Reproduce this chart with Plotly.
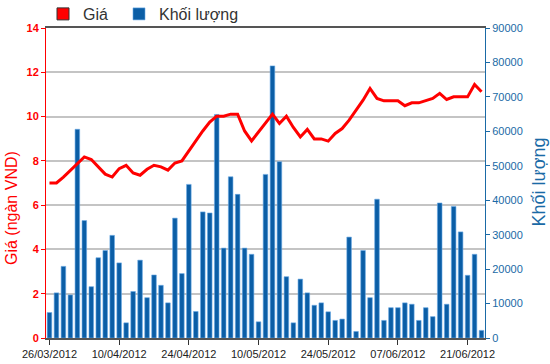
import plotly.graph_objects as go

dates = [
    "26/03/2012", "27/03/2012", "28/03/2012", "29/03/2012", "30/03/2012",
    "03/04/2012", "04/04/2012", "05/04/2012", "06/04/2012", "09/04/2012",
    "10/04/2012", "11/04/2012", "12/04/2012", "13/04/2012", "16/04/2012",
    "17/04/2012", "18/04/2012", "19/04/2012", "20/04/2012", "23/04/2012",
    "24/04/2012", "25/04/2012", "26/04/2012", "27/04/2012",
    "02/05/2012", "03/05/2012", "04/05/2012", "07/05/2012", "08/05/2012",
    "09/05/2012", "10/05/2012", "11/05/2012", "14/05/2012", "15/05/2012",
    "16/05/2012", "17/05/2012", "18/05/2012", "21/05/2012", "22/05/2012",
    "23/05/2012", "24/05/2012", "25/05/2012", "28/05/2012", "29/05/2012",
    "30/05/2012", "31/05/2012",
    "01/06/2012", "04/06/2012", "05/06/2012", "06/06/2012", "07/06/2012",
    "08/06/2012", "11/06/2012", "12/06/2012", "13/06/2012", "14/06/2012",
    "15/06/2012", "18/06/2012", "19/06/2012", "20/06/2012", "21/06/2012",
    "22/06/2012", "25/06/2012",
]

price = [
    7.0, 7.0, 7.27, 7.58, 7.88, 8.18, 8.06, 7.73, 7.4, 7.27,
    7.65, 7.8, 7.45, 7.35, 7.62, 7.8, 7.73, 7.58, 7.9, 8.0,
    8.45, 8.95, 9.35, 9.75, 10.02, 10.02, 10.11, 10.11, 9.35, 8.9,
    9.3, 9.69, 10.11, 9.69, 10.02, 9.51, 9.08, 9.42, 8.99, 8.99,
    8.89, 9.24, 9.46, 9.84, 10.29, 10.74, 11.27, 10.82, 10.71, 10.71,
    10.71, 10.49, 10.62, 10.62, 10.71, 10.82, 11.05, 10.77, 10.89, 10.89,
    10.89, 11.45, 11.12,
]

volume = [
    7400, 13100, 20800, 12500, 60600, 34100, 14900, 23300, 25400, 29800,
    21800, 4400, 13500, 22600, 11700, 18300, 15300, 10200, 34800, 18700,
    44600, 7700, 36600, 36300, 64900, 26100, 46800, 41700, 26100, 24300,
    4700, 47500, 79000, 51200, 17800, 4400, 17100, 13100, 9500, 10200,
    7600, 5100, 5500, 29300, 1900, 25400, 11700, 40300, 5100, 8800,
    8800, 10200, 9800, 5100, 8800, 6200, 39200, 9800, 38200, 30800,
    18200, 24300, 2200,
]

tick_labels = dates[::10]
price_ticks = [0, 2, 4, 6, 8, 10, 12, 14]
volume_ticks = list(range(0, 90001, 10000))

RED = "#ff0000"
BLUE = "#0b5ea6"
AXBLUE = "#1a6aa6"
FONT = "Liberation Sans, Arial, sans-serif"

fig = go.Figure()

# legend-only entry for the price series (square swatch as in the reference)
fig.add_trace(go.Bar(
    x=[dates[0]], y=[None], name="Giá",
    marker=dict(color=RED, line=dict(color="#333", width=1)),
    yaxis="y2", showlegend=True, hoverinfo="skip", legend="legend",
))

fig.add_trace(go.Bar(
    x=dates, y=volume, name="Khối lượng",
    marker=dict(color=BLUE, line=dict(color="#6aaae6", width=0.6)),
    width=0.66, yaxis="y", showlegend=True, legend="legend2",
))

fig.add_trace(go.Scatter(
    x=dates, y=price, name="Giá", mode="lines",
    line=dict(color=RED, width=3), yaxis="y2", showlegend=False,
))

legend_common = dict(
    orientation="h", xref="container", yref="container",
    y=1 - 14 / 364, xanchor="left", yanchor="middle",
    font=dict(size=16, color="#333"), itemwidth=30,
    bgcolor="rgba(0,0,0,0)",
)

fig.update_layout(
    width=550, height=364,
    margin=dict(l=46, r=65, t=28, b=26, autoexpand=False),
    paper_bgcolor="white", plot_bgcolor="white",
    barmode="overlay",
    font=dict(family=FONT, size=11, color="#333"),
    showlegend=True,
    legend=dict(x=43 / 550, **legend_common),
    legend2=dict(x=119 / 550, **legend_common),
    xaxis=dict(
        type="category", range=[-0.5, len(dates) - 0.5],
        tickvals=tick_labels, ticktext=tick_labels,
        ticks="outside", ticklen=5, tickcolor="#333", tickwidth=1,
        showline=True, linecolor="#555", linewidth=2, mirror=True,
        showgrid=False, tickfont=dict(size=11, color="#222"),
        tickangle=0,
    ),
    yaxis=dict(
        side="right", range=[0, 90000], tickvals=volume_ticks, tickformat="d",
        showgrid=False, zeroline=False,
        showline=True, linecolor=AXBLUE, linewidth=1,
        ticks="outside", ticklen=4, tickcolor=AXBLUE,
        tickfont=dict(size=11, color=AXBLUE),
    ),
    yaxis2=dict(
        side="left", overlaying="y", range=[0, 14], tickvals=price_ticks,
        showgrid=True, gridcolor="#c4c4c4", gridwidth=1.5, zeroline=False,
        showline=True, linecolor=RED, linewidth=1,
        ticks="outside", ticklen=4, tickcolor=RED,
        tickfont=dict(size=11, color=RED, weight="bold"),
    ),
    annotations=[
        dict(text="Giá (ngàn VND)", xref="paper", yref="paper",
             x=-0.077, y=0.42, textangle=-90, showarrow=False,
             font=dict(size=16, color=RED), xanchor="center", yanchor="middle"),
        dict(text="Khối lượng", xref="paper", yref="paper",
             x=1.123, y=0.505, textangle=-90, showarrow=False,
             font=dict(size=18, color=AXBLUE), xanchor="center", yanchor="middle"),
    ],
)

fig.write_html("out.html")
